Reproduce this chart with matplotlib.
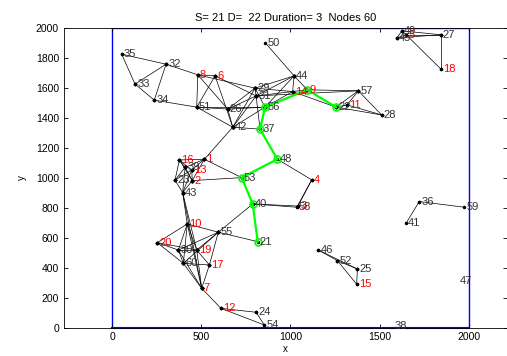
import matplotlib
matplotlib.use("Agg")
import matplotlib.pyplot as plt

plt.rcParams.update({"font.family": ["Liberation Sans", "DejaVu Sans"]})

# node ids and positions (data units)
node_ids = [1, 2, 3, 4, 5, 6, 7, 8, 9, 10, 11, 12, 13, 14, 15, 16, 17, 18, 19, 20,
            21, 22, 23, 24, 25, 26, 27, 28, 29, 30, 31, 32, 33, 34, 35, 36, 37, 38, 39, 40,
            41, 42, 43, 44, 45, 46, 47, 48, 49, 50, 51, 52, 53, 54, 55, 56, 57, 58, 59, 60]
node_x = [518, 450, 1043, 1120, 1649, 578, 503, 481, 1095, 422, 1318, 611, 447, 1013, 1372, 378, 546, 1843, 475, 254,
          817, 1256, 353, 808, 1376, 649, 1843, 1512, 802, 372, 808, 303, 129, 237, 54, 1723, 830, 1570, 410, 789,
          1649, 677, 396, 1021, 1598, 1157, 1940, 927, 1626, 858, 475, 1264, 727, 854, 596, 858, 1381, 1036, 1976, 400]
node_y = [1125, 982, 812, 987, 1957, 1682, 262, 1689, 1589, 692, 1488, 128, 1053, 1577, 289, 1120, 418, 1729, 518, 567,
          574, 1473, 985, 102, 391, 1460, 1957, 1421, 1600, 518, 1548, 1760, 1627, 1520, 1827, 842, 1326, 10, 1070, 826,
          697, 1339, 902, 1682, 1936, 518, 311, 1125, 1983, 1905, 1473, 447, 1002, 17, 637, 1473, 1582, 804, 804, 429]
red_nodes = list(range(1, 21))

edges = [(35, 32), (35, 33), (32, 33), (32, 34), (33, 34), (32, 8), (34, 51), (8, 51), (8, 6), (8, 26),
         (8, 29), (6, 51), (6, 42), (6, 31), (51, 26), (51, 56), (51, 42), (26, 42), (26, 29), (26, 31),
         (26, 56), (42, 29), (42, 31), (42, 56), (42, 37), (42, 1), (29, 44), (31, 44), (29, 14), (31, 9),
         (29, 56), (31, 37), (29, 31), (56, 44), (56, 14), (50, 44), (44, 9), (44, 14), (14, 22), (31, 57),
         (9, 57), (22, 57), (22, 28), (57, 28), (11, 57), (11, 28), (22, 11),
         (16, 1), (16, 13), (16, 23), (16, 39), (16, 2), (1, 13), (1, 2), (1, 39), (1, 53),
         (13, 2), (13, 23), (13, 43), (39, 23), (39, 2), (39, 43), (23, 43), (2, 43), (2, 53),
         (43, 10), (43, 19), (43, 7), (48, 4), (4, 58), (4, 3), (40, 58), (40, 3), (40, 55), (55, 21),
         (10, 55), (10, 20), (10, 30), (10, 19), (10, 60), (10, 7), (20, 30), (20, 19), (20, 60), (55, 19),
         (55, 17), (55, 60), (55, 30), (17, 60), (17, 19), (30, 7), (60, 7), (19, 7), (17, 7), (30, 19),
         (30, 60), (7, 12), (12, 24), (12, 54), (24, 54),
         (46, 52), (46, 25), (52, 25), (52, 15), (25, 15), (36, 41), (36, 59),
         (49, 27), (45, 27), (5, 27), (27, 18), (5, 18), (45, 49), (45, 5), (49, 5)]
path = [21, 40, 53, 48, 37, 56, 9, 22]

pos = {n: (x, y) for n, x, y in zip(node_ids, node_x, node_y)}

fig = plt.figure(figsize=(5.07, 3.56), dpi=100)
ax = fig.add_axes([0.126, 0.080, 0.874, 0.8405])

for a, b in edges:
    ax.plot([pos[a][0], pos[b][0]], [pos[a][1], pos[b][1]], "-", color="black", lw=0.5,
            marker=".", ms=3, zorder=2)

px = [pos[n][0] for n in path]
py = [pos[n][1] for n in path]
ax.plot(px, py, "-", color="#00ff00", lw=1.6, marker="o", ms=5, mfc="none", mec="#00ff00",
        mew=1.2, zorder=3)

for n in node_ids:
    x, y = pos[n]
    ax.text(x + 12, y, str(n), fontsize=8, va="center", ha="left",
            color="red" if n in red_nodes else "#333333", zorder=4)

# area boundary
ax.plot([0, 0], [0, 2000], color="blue", lw=1, zorder=1)
ax.plot([2000, 2000], [0, 2000], color="blue", lw=1, zorder=1)
ax.plot([0, 2000], [2000, 2000], color="blue", lw=1, zorder=1)
ax.plot([0, 2000], [0, 0], color="blue", lw=1.5, zorder=1, clip_on=False)

ax.set_xlim(-270, 2215)
ax.set_ylim(0, 2000)
ax.set_xticks([0, 500, 1000, 1500, 2000])
ax.set_yticks(range(0, 2001, 200))
ax.tick_params(direction="in", length=3, width=0.6, labelsize=7.5, top=True, right=True)
for s in ax.spines.values():
    s.set_linewidth(0.6)
ax.set_xlabel("x", fontsize=7, labelpad=1)
ax.set_ylabel("y", fontsize=7, labelpad=6)
ax.set_title("S= 21 D=  22 Duration= 3  Nodes 60", fontsize=8, pad=5)

fig.savefig("out.png", dpi=100, facecolor="white")
